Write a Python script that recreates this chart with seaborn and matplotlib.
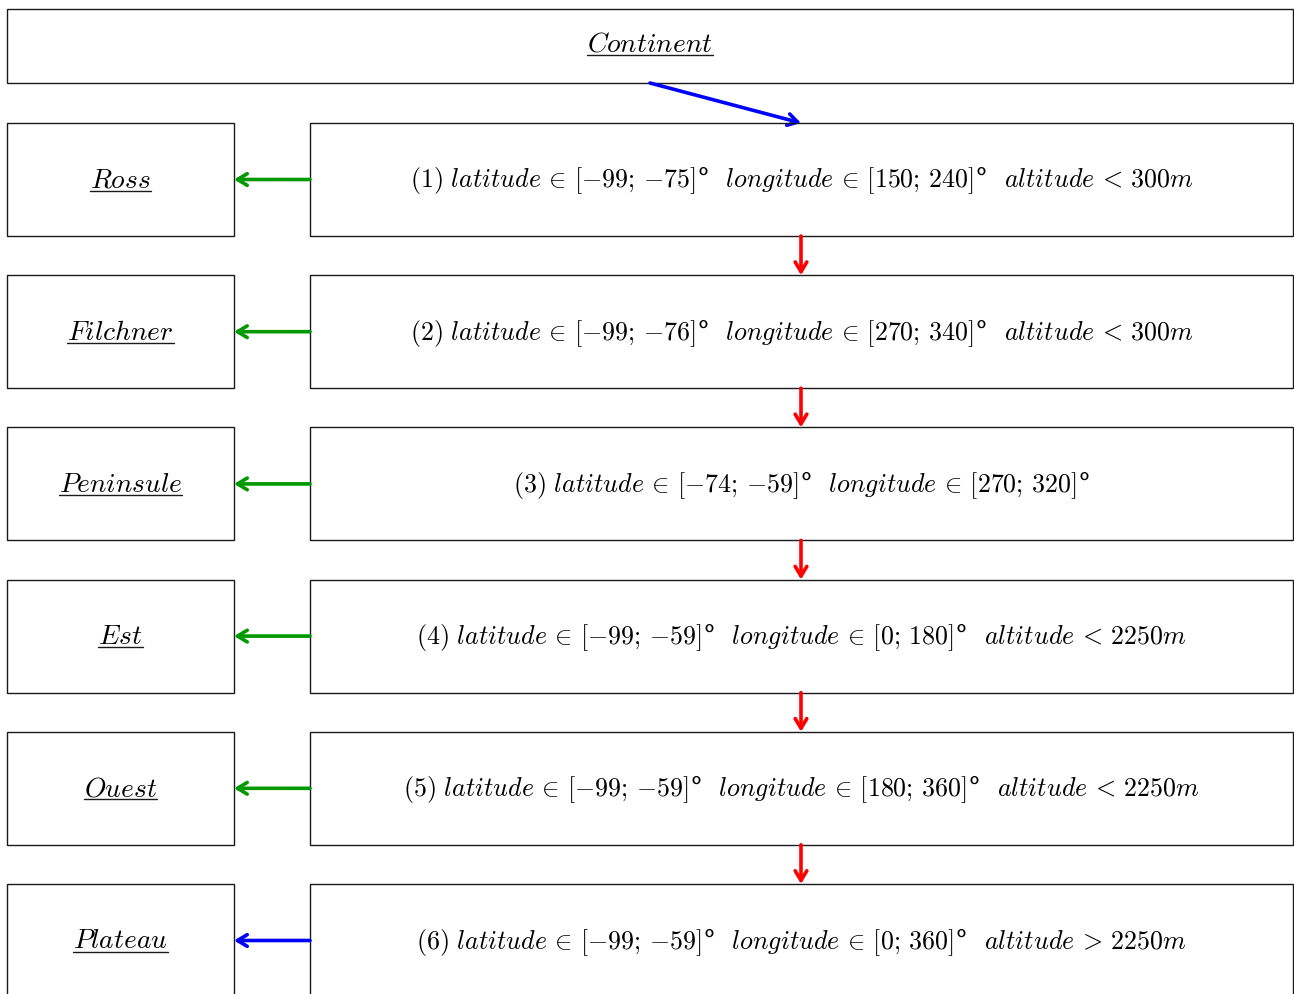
import matplotlib

matplotlib.use("Agg")
import matplotlib.pyplot as plt  # noqa: E402
import seaborn as sns
from matplotlib.patches import Rectangle, FancyArrowPatch

sns.set_theme(style="white")
plt.rcParams["mathtext.fontset"] = "cm"
plt.rcParams["font.family"] = ["DejaVu Serif"]
plt.rcParams["text.color"] = "black"

# --- data -------------------------------------------------------------
top_label = "Continent"
regions = ["Ross", "Filchner", "Peninsule", "Est", "Ouest", "Plateau"]
lat_ranges = [("-99", "-75"), ("-99", "-76"), ("-74", "-59"),
              ("-99", "-59"), ("-99", "-59"), ("-99", "-59")]
lon_ranges = [("150", "240"), ("270", "340"), ("270", "320"),
              ("0", "180"), ("180", "360"), ("0", "360")]
alt_rules = ["< 300m", "< 300m", None, "< 2250m", "< 2250m", "> 2250m"]
side_colors = ["#009900", "#009900", "#009900", "#009900", "#009900", "blue"]

# --- layout (pixel coordinates) --------------------------------------
W, H = 1294, 994
row_top0, row_step, row_h = 123, 152.2, 113
left_x0, left_x1 = 7, 234
right_x0, right_x1 = 310, 1293
down_x = 801
fs = 18.7
fs_label = 19.8

fig = plt.figure(figsize=(W / 100, H / 100), dpi=100)
ax = fig.add_axes([0, 0, 1, 1])
ax.set_xlim(0, W)
ax.set_ylim(H, 0)
ax.axis("off")

box_kw = dict(fill=False, lw=1.0, edgecolor="#1a1a1a")
arrow_kw = dict(lw=2.6, mutation_scale=14, shrinkA=0, shrinkB=0,
                arrowstyle="->,head_length=0.5,head_width=0.3")
labels = []


def underlined(x, y, s):
    t = ax.text(x, y + 8, f"${s}$", ha="center", va="baseline", fontsize=fs_label)
    labels.append((t, y + 11))


# top box
ax.add_patch(Rectangle((7, 9), 1286, 74, **box_kw))
underlined(650, 44, top_label)
ax.add_patch(FancyArrowPatch((650, 83), (down_x, row_top0), color="blue", **arrow_kw))

for i, name in enumerate(regions):
    top = row_top0 + i * row_step
    cy = top + row_h / 2
    ax.add_patch(Rectangle((left_x0, top), left_x1 - left_x0, row_h, **box_kw))
    ax.add_patch(Rectangle((right_x0, top), right_x1 - right_x0, row_h, **box_kw))
    underlined((left_x0 + left_x1) / 2, cy, name)

    lat, lon = lat_ranges[i], lon_ranges[i]
    s = (rf"$({i + 1})\ latitude\,\in\,[{{{lat[0]}}};\,{{{lat[1]}}}]$°  "
         rf"$longitude\,\in\,[{{{lon[0]}}};\,{{{lon[1]}}}]$°")
    if alt_rules[i]:
        op, val = alt_rules[i].split()
        s += rf"  $altitude\,{op}\,{val}$"
    ax.text((right_x0 + right_x1) / 2, cy + 8, s, ha="center", va="baseline", fontsize=fs)

    ax.add_patch(FancyArrowPatch((right_x0, cy), (left_x1, cy), color=side_colors[i], **arrow_kw))
    if i < len(regions) - 1:
        ax.add_patch(FancyArrowPatch((down_x, top + row_h), (down_x, top + row_step),
                                     color="red", **arrow_kw))

# underline the region names
fig.canvas.draw()
inv = ax.transData.inverted()
for t, uy in labels:
    bb = t.get_window_extent()
    (xa, _), (xb, _) = inv.transform([[bb.x0, bb.y0], [bb.x1, bb.y1]])
    ax.plot([xa, xb], [uy, uy], color="#1a1a1a", lw=1.0)

fig.savefig("out.png", dpi=100)
